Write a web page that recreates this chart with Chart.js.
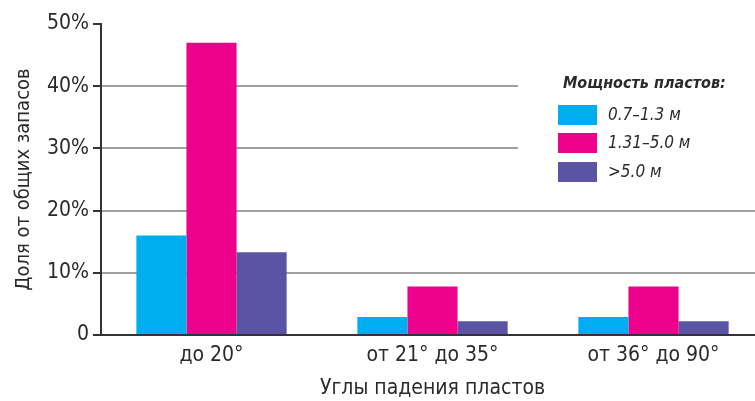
<!DOCTYPE html>
<html><head><meta charset="utf-8">
<script src="https://cdn.jsdelivr.net/npm/chart.js@4"></script>
<style>
html,body{margin:0;padding:0;background:#fff;overflow:hidden;}
#wrap{position:relative;width:764px;height:401px;}
</style></head>
<body><div id="wrap"><canvas id="c" width="764" height="401"></canvas></div>
<script>
const categories = ['до 20°', 'от 21° до 35°', 'от 36° до 90°'];
const seriesNames = ['0.7–1.3 м', '1.31–5.0 м', '>5.0 м'];
const thin = [16, 2.9, 2.9];
const medium = [47, 7.8, 7.8];
const thick = [13.3, 2.2, 2.2];
const yTicks = [0, 10, 20, 30, 40, 50];
const legendTitle = 'Мощность пластов:';
const xTitle = 'Углы падения пластов';
const yTitle = 'Доля от общих запасов';

const colors = ['#00AEEF', '#EC008C', '#5B53A4'];
const FONT = "'DejaVu Sans Condensed','DejaVu Sans',sans-serif";
const TXT = '#2a2a2a';

const legendPlugin = {
  id: 'customLegend',
  afterDraw(chart) {
    const ctx = chart.ctx;
    ctx.save();
    ctx.fillStyle = '#fff';
    ctx.fillRect(518, 60, 250, 130);
    ctx.fillStyle = TXT;
    ctx.textBaseline = 'middle';
    ctx.textAlign = 'left';
    ctx.font = "italic bold 16px " + FONT;
    ctx.fillText(legendTitle, 563, 84);
    const ys = [115, 143, 172];
    chart.data.datasets.forEach((ds, i) => {
      ctx.fillStyle = ds.backgroundColor;
      ctx.fillRect(558, ys[i] - 10, 39, 20);
      ctx.fillStyle = TXT;
      ctx.font = "italic 17px " + FONT;
      ctx.fillText(ds.label, 608, ys[i] + 1);
    });
    ctx.restore();
  }
};

new Chart(document.getElementById('c'), {
  type: 'bar',
  data: {
    labels: categories,
    datasets: [
      {label: seriesNames[0], data: thin, backgroundColor: colors[0]},
      {label: seriesNames[1], data: medium, backgroundColor: colors[1]},
      {label: seriesNames[2], data: thick, backgroundColor: colors[2]}
    ]
  },
  options: {
    responsive: false,
    animation: false,
    layout: {padding: {top: 24, right: 0, left: 12, bottom: 0}},
    datasets: {bar: {barPercentage: 1, categoryPercentage: 0.68, borderWidth: 0}},
    plugins: {legend: {display: false}, tooltip: {enabled: false}},
    scales: {
      x: {
        grid: {display: false, drawTicks: false},
        border: {display: true, color: '#333', width: 2},
        ticks: {color: TXT, font: {family: FONT, size: 21}, padding: 8},
        title: {display: true, text: xTitle, color: TXT, font: {family: FONT, size: 21}, padding: {top: 2, bottom: 0}},
        afterFit(s) { s.height = 66; }
      },
      y: {
        min: 0, max: 50,
        afterBuildTicks(s) { s.ticks = yTicks.map(v => ({value: v})); },
        grid: {
          color: c => (c.tick && (c.tick.value === 0 || c.tick.value === 50)) ? 'rgba(0,0,0,0)' : '#a0a0a0',
          lineWidth: 2,
          tickColor: '#333',
          tickLength: 8,
          drawTicks: true
        },
        border: {display: true, color: '#333', width: 2},
        ticks: {
          color: TXT, font: {family: FONT, size: 21}, padding: 4,
          callback: v => v === 0 ? '0' : v + '%'
        },
        title: {display: true, text: yTitle, color: TXT, font: {family: FONT, size: 20}, padding: {top: 0, bottom: 4}},
        afterFit(s) { s.width = 89; }
      }
    }
  },
  plugins: [legendPlugin]
});
</script></body></html>
